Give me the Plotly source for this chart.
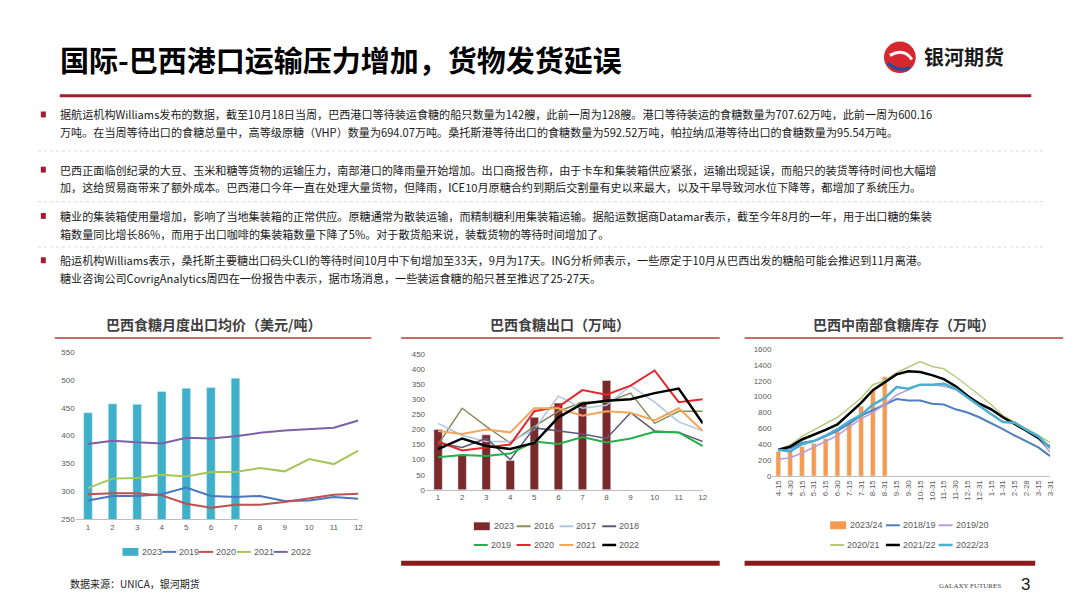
import plotly.graph_objects as go

W, H = 1080, 608

def px(x):
    return x / W

def py(y):
    return 1 - y / H

# ---- chart 1: monthly export price (USD/t)
months = [str(m) for m in range(1, 13)]
price_2023 = [441, 457, 456, 479, 485, 486, 503]
price_2019 = [284, 292, 292, 295, 307, 292, 290, 292, 283, 284, 290, 287]
price_2020 = [295, 297, 297, 293, 278, 271, 276, 276, 281, 287, 294, 296]
price_2021 = [306, 323, 324, 330, 327, 335, 335, 342, 336, 358, 349, 373]
price_2022 = [385, 391, 388, 386, 396, 395, 399, 405, 409, 411, 414, 427]

# ---- chart 2: exports (10k t)
exp_2023 = [200, 117, 182, 97, 240, 287, 290, 362]
exp_2016 = [150, 270, 210, 155, 210, 260, 290, 290, 320, 220, 260, 260]
exp_2017 = [220, 180, 160, 160, 200, 310, 270, 280, 345, 290, 225, 195]
exp_2018 = [155, 140, 170, 100, 205, 195, 185, 170, 255, 195, 190, 160]
exp_2019 = [108, 115, 112, 120, 160, 152, 175, 157, 170, 192, 190, 145]
exp_2020 = [160, 130, 140, 150, 260, 275, 330, 315, 345, 395, 290, 300]
exp_2021 = [195, 185, 200, 190, 270, 270, 245, 260, 255, 230, 270, 195]
exp_2022 = [135, 170, 145, 135, 155, 240, 285, 295, 300, 320, 335, 220]

# ---- chart 3: centre-south stocks (10k t)
dates = ["4-15", "4-30", "5-15", "5-31", "6-15", "6-30", "7-15", "7-31", "8-15", "8-31",
         "9-15", "9-30", "10-15", "10-31", "11-15", "11-30", "12-15", "12-31",
         "1-15", "1-31", "2-15", "2-28", "3-15", "3-31"]
stk_2324 = [310, 320, 370, 410, 470, 560, 690, 880, 1080, 1250]
stk_1819 = [320, 350, 420, 440, 500, 570, 660, 760, 830, 900, 970, 950, 950, 910, 900, 840,
            800, 740, 670, 590, 510, 430, 360, 250]
stk_1920 = [210, 230, 290, 360, 440, 510, 620, 720, 800, 900, 1020, 1080, 1150, 1150, 1130,
            1090, 1000, 920, 850, 740, 650, 560, 470, 300]
stk_2021 = [330, 390, 500, 580, 660, 740, 860, 980, 1150, 1200, 1300, 1370, 1440, 1380, 1350,
            1250, 1140, 1020, 900, 760, 680, 600, 510, 420]
stk_2122 = [330, 370, 460, 520, 580, 650, 790, 920, 1080, 1180, 1280, 1320, 1310, 1270, 1220,
            1130, 1010, 910, 840, 740, 660, 570, 480, 360]
stk_2223 = [330, 310, 400, 440, 510, 590, 690, 770, 900, 980, 1120, 1100, 1150, 1150, 1160,
            1100, 990, 880, 780, 680, 670, 580, 500, 350]

title = "国际-巴西港口运输压力增加，货物发货延误"
bullets = [
    ["据航运机构Williams发布的数据，截至10月18日当周，巴西港口等待装运食糖的船只数量为142艘，此前一周为128艘。港口等待装运的食糖数量为707.62万吨，此前一周为600.16",
     "万吨。在当周等待出口的食糖总量中，高等级原糖（VHP）数量为694.07万吨。桑托斯港等待出口的食糖数量为592.52万吨，帕拉纳瓜港等待出口的食糖数量为95.54万吨。"],
    ["巴西正面临创纪录的大豆、玉米和糖等货物的运输压力，南部港口的降雨量开始增加。出口商报告称，由于卡车和集装箱供应紧张，运输出现延误，而船只的装货等待时间也大幅增",
     "加，这给贸易商带来了额外成本。巴西港口今年一直在处理大量货物，但降雨，ICE10月原糖合约到期后交割量有史以来最大，以及干旱导致河水位下降等，都增加了系统压力。"],
    ["糖业的集装箱使用量增加，影响了当地集装箱的正常供应。原糖通常为散装运输，而精制糖利用集装箱运输。据船运数据商Datamar表示，截至今年8月的一年，用于出口糖的集装",
     "箱数量同比增长86%，而用于出口咖啡的集装箱数量下降了5%。对于散货船来说，装载货物的等待时间增加了。"],
    ["船运机构Williams表示，桑托斯主要糖出口码头CLI的等待时间10月中下旬增加至33天，9月为17天。ING分析师表示，一些原定于10月从巴西出发的糖船可能会推迟到11月离港。",
     "糖业咨询公司CovrigAnalytics周四在一份报告中表示，据市场消息，一些装运食糖的船只甚至推迟了25-27天。"],
]
bullet_y = [104, 160, 207, 252]
chart_titles = ["巴西食糖月度出口均价（美元/吨）", "巴西食糖出口（万吨）", "巴西中南部食糖库存（万吨）"]

FONT = "Noto Sans CJK SC"
fig = go.Figure()
shapes = []
ann = []
legend_items = []  # (name, color, width, is_bar, x, y)

def line(x, y, name, color, xa, ya, lx, ly, width=2):
    fig.add_trace(go.Scatter(x=x, y=y, name=name, mode="lines", xaxis=xa, yaxis=ya,
                             line=dict(color=color, width=width)))
    legend_items.append((name, color, width, False, lx, ly))

def bar(x, y, name, color, xa, ya, lx, ly, width):
    fig.add_trace(go.Bar(x=x, y=y, name=name, marker_color=color, width=width,
                         xaxis=xa, yaxis=ya))
    legend_items.append((name, color, 0, True, lx, ly))

# chart 1
bar(months[:len(price_2023)], price_2023, "2023", "#3fb0c9", "x", "y", 115, 548, 0.35)
line(months, price_2019, "2019", "#4a78bf", "x", "y", 155, 548)
line(months, price_2020, "2020", "#c0504d", "x", "y", 192, 548)
line(months, price_2021, "2021", "#a6c45a", "x", "y", 230, 548)
line(months, price_2022, "2022", "#7f60a6", "x", "y", 267, 548)

# chart 2
bar(months[:len(exp_2023)], exp_2023, "2023", "#7b2a2c", "x2", "y2", 468, 522, 0.35)
line(months, exp_2016, "2016", "#8c8c5a", "x2", "y2", 511, 522, 1.5)
line(months, exp_2017, "2017", "#a9c6e3", "x2", "y2", 554, 522, 1.5)
line(months, exp_2018, "2018", "#5b5b78", "x2", "y2", 597, 522, 1.5)
line(months, exp_2019, "2019", "#22b04b", "x2", "y2", 468, 541, 2)
line(months, exp_2020, "2020", "#e5262b", "x2", "y2", 511, 541, 2)
line(months, exp_2021, "2021", "#f5a55a", "x2", "y2", 554, 541, 2)
line(months, exp_2022, "2022", "#000000", "x2", "y2", 597, 541, 2.5)

# chart 3
bar(dates[:len(stk_2324)], stk_2324, "2023/24", "#f59a4e", "x3", "y3", 826, 521, 0.4)
line(dates, stk_1819, "2018/19", "#4f7fc0", "x3", "y3", 882, 521)
line(dates, stk_1920, "2019/20", "#b79fd6", "x3", "y3", 935, 521, 1.5)
line(dates, stk_2021, "2020/21", "#b6cc7c", "x3", "y3", 826, 541, 1.5)
line(dates, stk_2122, "2021/22", "#000000", "x3", "y3", 882, 541, 2.5)
line(dates, stk_2223, "2022/23", "#4bb0d0", "x3", "y3", 935, 541, 2.5)

tickfont = dict(family="Liberation Sans", size=8, color="#595959")
ax_common = dict(showgrid=False, zeroline=False, tickfont=tickfont, ticks="",
                 fixedrange=True)
fig.update_layout(
    xaxis=dict(domain=[px(68), px(352)], anchor="y", showline=True, linecolor="#bfbfbf", **ax_common),
    yaxis=dict(domain=[py(515), py(345)], anchor="x", range=[250, 550], dtick=50, showline=False, **ax_common),
    xaxis2=dict(domain=[px(420), px(698)], anchor="y2", showline=True, linecolor="#bfbfbf", **ax_common),
    yaxis2=dict(domain=[py(485), py(347)], anchor="x2", range=[0, 450], dtick=50, showline=False, **ax_common),
    xaxis3=dict(domain=[px(768), px(1047)], anchor="y3", showline=True, linecolor="#bfbfbf",
                tickangle=-90, **ax_common),
    yaxis3=dict(domain=[py(471), py(342)], anchor="x3", range=[0, 1600], dtick=200, showline=False, **ax_common),
    barmode="overlay", showlegend=False,
)

# hand-drawn legends (tight spacing like the source)
for name, color, width, is_bar, lx, ly in legend_items:
    if is_bar:
        shapes.append(dict(type="rect", x0=px(lx), x1=px(lx + 16), y0=py(ly - 4), y1=py(ly + 4),
                           fillcolor=color, line=dict(width=0)))
        tx = lx + 18
    else:
        shapes.append(dict(type="line", x0=px(lx), x1=px(lx + 14), y0=py(ly), y1=py(ly),
                           line=dict(color=color, width=max(width, 2))))
        tx = lx + 15
    ann.append(dict(x=px(tx), y=py(ly), text=name, xanchor="left", yanchor="middle",
                    font=dict(family="Liberation Sans Narrow, Liberation Sans", size=9, color="#595959")))

# header
ann.append(dict(x=px(50), y=py(48), text="<b>" + title + "</b>", xanchor="left", yanchor="middle",
                font=dict(family=FONT, size=29, color="#000000")))
shapes.append(dict(type="line", x0=px(52), x1=px(1028), y0=py(85), y1=py(85),
                   line=dict(color="#a6192e", width=3)))
shapes.append(dict(type="circle", x0=px(880), x1=px(912), y0=py(30), y1=py(62),
                   fillcolor="#d7282f", line=dict(width=0)))
shapes.append(dict(type="path", path="M %f %f Q %f %f %f %f" % (px(886), py(44), px(900), py(36), px(908), py(48)),
                   line=dict(color="white", width=3)))
shapes.append(dict(type="path", path="M %f %f Q %f %f %f %f" % (px(884), py(52), px(896), py(62), px(906), py(56)),
                   line=dict(color="#1f4e9c", width=3)))
ann.append(dict(x=px(918), y=py(45), text="<b>银河期货</b>", xanchor="left", yanchor="middle",
                font=dict(family=FONT, size=20, color="#1a1a1a")))

# bullets
for i, lines in enumerate(bullets):
    y0 = bullet_y[i]
    shapes.append(dict(type="rect", x0=px(33), x1=px(38), y0=py(y0 - 3), y1=py(y0 + 3),
                       fillcolor="#a6192e", line=dict(width=0)))
    for j, t in enumerate(lines):
        ann.append(dict(x=px(50), y=py(y0 + j * 18), text=t, xanchor="left", yanchor="middle",
                        font=dict(family=FONT, size=11.1, color="#1a1a1a")))
    if i < len(bullets) - 1:
        sep = (y0 + 18 * (len(lines) - 1) + bullet_y[i + 1]) / 2
        shapes.append(dict(type="line", x0=px(30), x1=px(1040), y0=py(sep), y1=py(sep),
                           line=dict(color="#d9d9d9", width=1, dash="dot")))

# chart title boxes
boxes = [(47, 365), (395, 715), (740, 1060)]
for (a, b), t in zip(boxes, chart_titles):
    ann.append(dict(x=px((a + b) / 2), y=py(317), text="<b>" + t + "</b>", xanchor="center",
                    yanchor="middle", font=dict(family=FONT, size=14, color="#404040")))
    shapes.append(dict(type="line", x0=px(a), x1=px(b), y0=py(331), y1=py(331),
                       line=dict(color="#d06a6a", width=2)))
for a, b in [(395, 715), (740, 1032)]:
    shapes.append(dict(type="rect", x0=px(a), x1=px(b), y0=py(557), y1=py(562),
                       fillcolor="#8b1a1a", line=dict(width=0)))

# footer
ann.append(dict(x=px(60), y=py(580), text="数据来源：UNICA，银河期货", xanchor="left", yanchor="middle",
                font=dict(family=FONT, size=10, color="#1a1a1a")))
ann.append(dict(x=px(1000), y=py(583), text="GALAXY FUTURES", xanchor="right", yanchor="middle",
                font=dict(family="Liberation Serif", size=7, color="#404040")))
ann.append(dict(x=px(1022), y=py(581), text="3", xanchor="center", yanchor="middle",
                font=dict(family="Liberation Sans", size=17, color="#1a1a1a")))

for a in ann:
    a.update(xref="paper", yref="paper", showarrow=False)
for s in shapes:
    s.update(xref="paper", yref="paper")

fig.update_layout(width=W, height=H, margin=dict(l=0, r=0, t=0, b=0),
                  paper_bgcolor="white", plot_bgcolor="white",
                  annotations=ann, shapes=shapes)
fig.write_html("out.html")
